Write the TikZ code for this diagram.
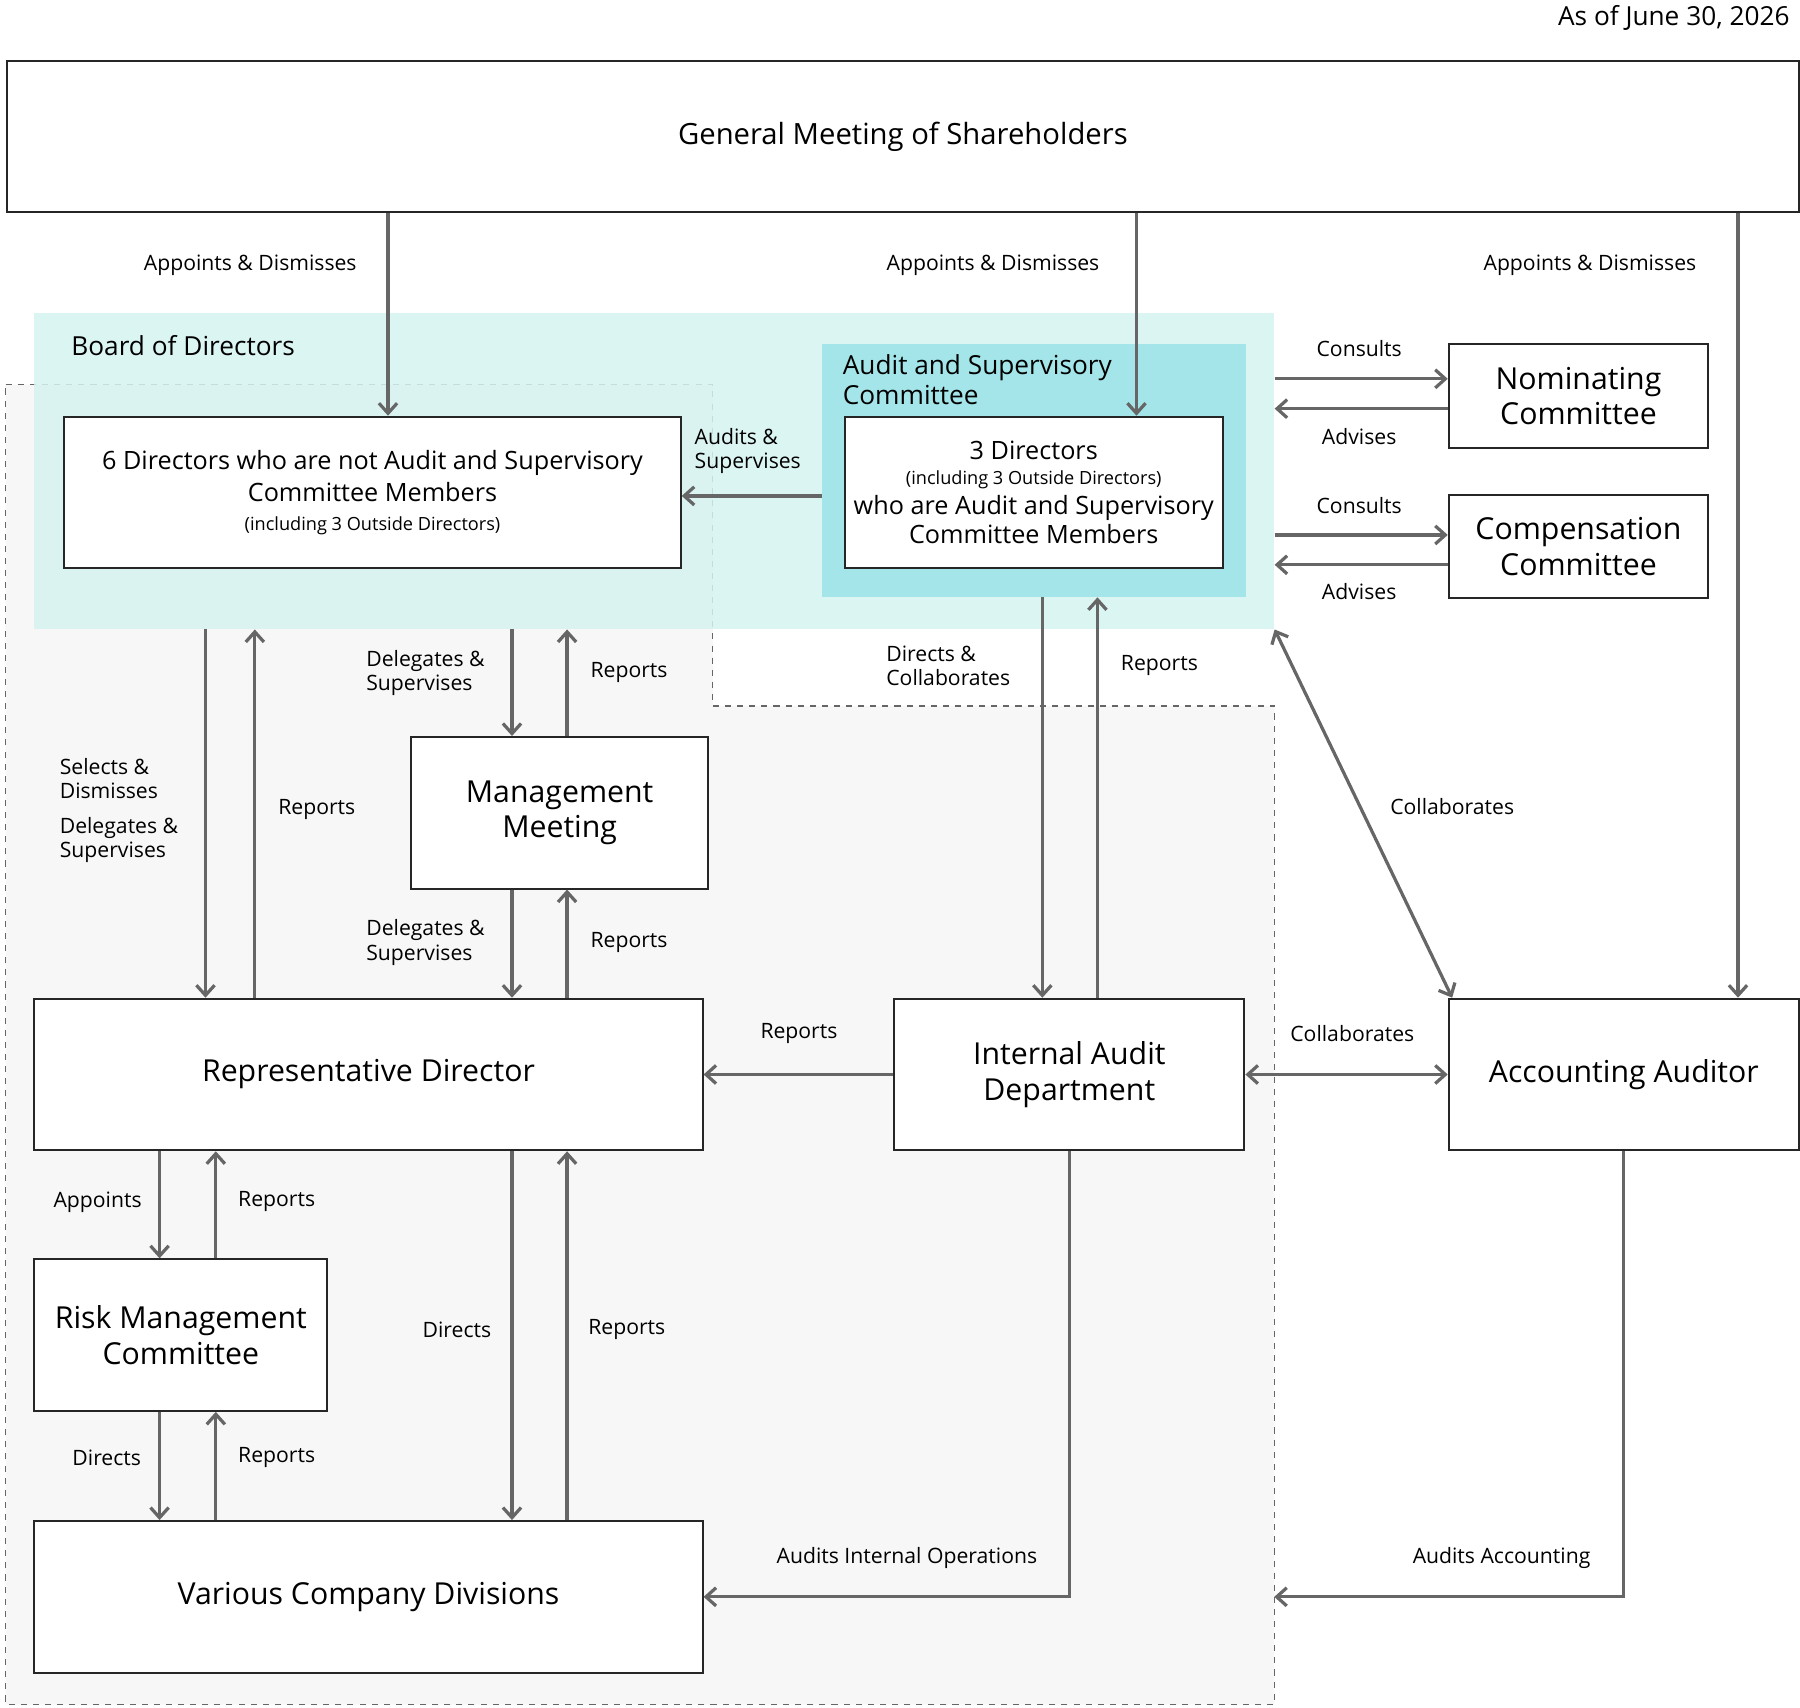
\documentclass[tikz,border=0pt]{standalone}
\usepackage{fontspec}
\setmainfont{Open Sans}
\usetikzlibrary{arrows.meta,fit,positioning}
\definecolor{linegray}{HTML}{666666}
\definecolor{boardfill}{HTML}{D5F3F1}
\definecolor{auditfill}{HTML}{A3E5E9}
\definecolor{areafill}{HTML}{F7F7F7}

\begin{document}
\begin{tikzpicture}[
    x=0.02cm, y=-0.02cm,
    box/.style={draw=black!85, fill=white, line width=1pt, inner sep=0pt, align=center, font=\fontsize{15}{17}\selectfont},
    flow/.style={-{Straight Barb[length=5pt,width=9pt]}, draw=linegray, line width=1.6pt},
    both/.style={{Straight Barb[length=5pt,width=9pt]}-{Straight Barb[length=5pt,width=9pt]}, draw=linegray, line width=1.6pt},
    lbl/.style={font=\fontsize{10.5}{12}\selectfont, align=left, inner sep=1pt}
]
    \useasboundingbox (0,0) rectangle (1568,1487);

    % Areas
    \path[fill=areafill, draw=linegray, dashed, line width=0.6pt]
        (5,335) -- (621,335) -- (621,615) -- (1110,615) -- (1110,1485) -- (5,1485) -- cycle;
    \node[fill=boardfill, opacity=0.85, inner sep=0pt, fit={(30,273)(1110,548)}] (board) {};
    \node[fill=auditfill, inner sep=0pt, fit={(716,300)(1085,520)}] (audit) {};
    \node[anchor=west, font=\fontsize{13}{15}\selectfont] at (56,301) {Board of Directors};
    \node[anchor=west, align=left, font=\fontsize{13}{15}\selectfont] at (728,331) {Audit and Supervisory\\Committee};
    \node[anchor=east, font=\fontsize{13}{15}\selectfont] at (1565,16) {As of June 30, 2026};

    % Boxes
    \node[box, fit={(6,53)(1567,185)}] (gms) {};
    \node[font=\fontsize{14.5}{17}\selectfont] at (gms) {General Meeting of Shareholders};
    \node[box, fit={(56,363)(593,495)}] (six) {};
    \node[align=center, font=\fontsize{12.5}{16}\selectfont] at (six) {6 Directors who are not Audit and Supervisory\\Committee Members\\[-2pt]{\fontsize{9}{12}\selectfont(including 3 Outside Directors)}};
    \node[box, fit={(736,363)(1065,495)}] (three) {};
    \node[align=center, font=\fontsize{12.5}{14.5}\selectfont] at (three) {3 Directors\\[-2pt]{\fontsize{9}{11}\selectfont(including 3 Outside Directors)}\\who are Audit and Supervisory\\Committee Members};
    \node[box, fit={(1262,300)(1488,390)}] (nom) {};
    \node[align=center, font=\fontsize{15}{17.5}\selectfont] at (nom) {Nominating\\Committee};
    \node[box, fit={(1262,431)(1488,521)}] (comp) {};
    \node[align=center, font=\fontsize{15}{17.5}\selectfont] at (comp) {Compensation\\Committee};
    \node[box, fit={(358,642)(617,774)}] (mgmt) {};
    \node[align=center, font=\fontsize{15}{17.5}\selectfont] at (mgmt) {Management\\Meeting};
    \node[box, fit={(30,870)(612,1002)}] (rep) {};
    \node[font=\fontsize{15}{17.5}\selectfont] at (rep) {Representative Director};
    \node[box, fit={(779,870)(1084,1002)}] (ia) {};
    \node[align=center, font=\fontsize{15}{17.5}\selectfont] at (ia) {Internal Audit\\Department};
    \node[box, fit={(1262,870)(1567,1002)}] (acc) {};
    \node[font=\fontsize{15}{17.5}\selectfont] at (acc) {Accounting Auditor};
    \node[box, fit={(30,1097)(285,1229)}] (risk) {};
    \node[align=center, font=\fontsize{15}{17.5}\selectfont] at (risk) {Risk Management\\Committee};
    \node[box, fit={(30,1325)(612,1457)}] (div) {};
    \node[font=\fontsize{15}{17.5}\selectfont] at (div) {Various Company Divisions};
    \coordinate (areaedge) at (1110,1391);

    % Shareholders
    \draw[flow] (338,0 |- gms.south) -- (338,0 |- six.north);
    \draw[flow] (990,0 |- gms.south) -- (990,0 |- three.north);
    \draw[flow] (1514,0 |- gms.south) -- (1514,0 |- acc.north);
    \node[lbl] at (218,231) {Appoints \& Dismisses};
    \node[lbl] at (865,231) {Appoints \& Dismisses};
    \node[lbl] at (1385,231) {Appoints \& Dismisses};

    % Board of Directors
    \draw[flow] (audit.west |- 0,432) -- (six.east |- 0,432);
    \node[lbl, anchor=west] at (603,393) {Audits \&\\Supervises};
    \draw[flow] (board.east |- 0,330) -- (nom.west |- 0,330);
    \draw[flow] (nom.west |- 0,356) -- (board.east |- 0,356);
    \draw[flow] (board.east |- 0,466) -- (comp.west |- 0,466);
    \draw[flow] (comp.west |- 0,492) -- (board.east |- 0,492);
    \node[lbl] at (1184,304) {Consults};
    \node[lbl] at (1184,380) {Advises};
    \node[lbl] at (1184,440) {Consults};
    \node[lbl] at (1184,515) {Advises};
    \draw[both] (board.south east) -- (1265,0 |- acc.north);
    \node[lbl] at (1265,703) {Collaborates};

    % Board to Representative Director and Management Meeting
    \draw[flow] (179,0 |- board.south) -- (179,0 |- rep.north);
    \draw[flow] (222,0 |- rep.north) -- (222,0 |- board.south);
    \node[lbl, anchor=west] at (50,678) {Selects \&\\Dismisses};
    \node[lbl, anchor=west] at (50,732) {Delegates \&\\Supervises};
    \node[lbl] at (276,705) {Reports};
    \draw[flow] (446,0 |- board.south) -- (446,0 |- mgmt.north);
    \draw[flow] (494,0 |- mgmt.north) -- (494,0 |- board.south);
    \node[lbl, anchor=west] at (317,586) {Delegates \&\\Supervises};
    \node[lbl] at (548,586) {Reports};
    \draw[flow] (446,0 |- mgmt.south) -- (446,0 |- rep.north);
    \draw[flow] (494,0 |- rep.north) -- (494,0 |- mgmt.south);
    \node[lbl, anchor=west] at (317,821) {Delegates \&\\Supervises};
    \node[lbl] at (548,821) {Reports};

    % Audit committee and Internal Audit
    \draw[flow] (908,0 |- audit.south) -- (908,0 |- ia.north);
    \draw[flow] (956,0 |- ia.north) -- (956,0 |- audit.south);
    \node[lbl, anchor=west] at (770,580) {Directs \&\\Collaborates};
    \node[lbl] at (1010,580) {Reports};
    \draw[flow] (ia.west) -- (rep.east |- ia.west);
    \node[lbl] at (696,900) {Reports};
    \draw[both] (ia.east) -- (acc.west);
    \node[lbl] at (1178,900) {Collaborates};

    % Representative Director downwards
    \draw[flow] (139,0 |- rep.south) -- (139,0 |- risk.north);
    \draw[flow] (188,0 |- risk.north) -- (188,0 |- rep.south);
    \node[lbl] at (85,1047) {Appoints};
    \node[lbl] at (241,1047) {Reports};
    \draw[flow] (446,0 |- rep.south) -- (446,0 |- div.north);
    \draw[flow] (494,0 |- div.north) -- (494,0 |- rep.south);
    \node[lbl] at (398,1158) {Directs};
    \node[lbl] at (546,1158) {Reports};
    \draw[flow] (139,0 |- risk.south) -- (139,0 |- div.north);
    \draw[flow] (188,0 |- div.north) -- (188,0 |- risk.south);
    \node[lbl] at (93,1270) {Directs};
    \node[lbl] at (241,1270) {Reports};

    % Audits
    \draw[flow] (ia.south) |- (div.east);
    \node[lbl] at (790,1357) {Audits Internal Operations};
    \draw[flow] (acc.south) |- (areaedge);
    \node[lbl] at (1308,1357) {Audits Accounting};
\end{tikzpicture}
\end{document}
